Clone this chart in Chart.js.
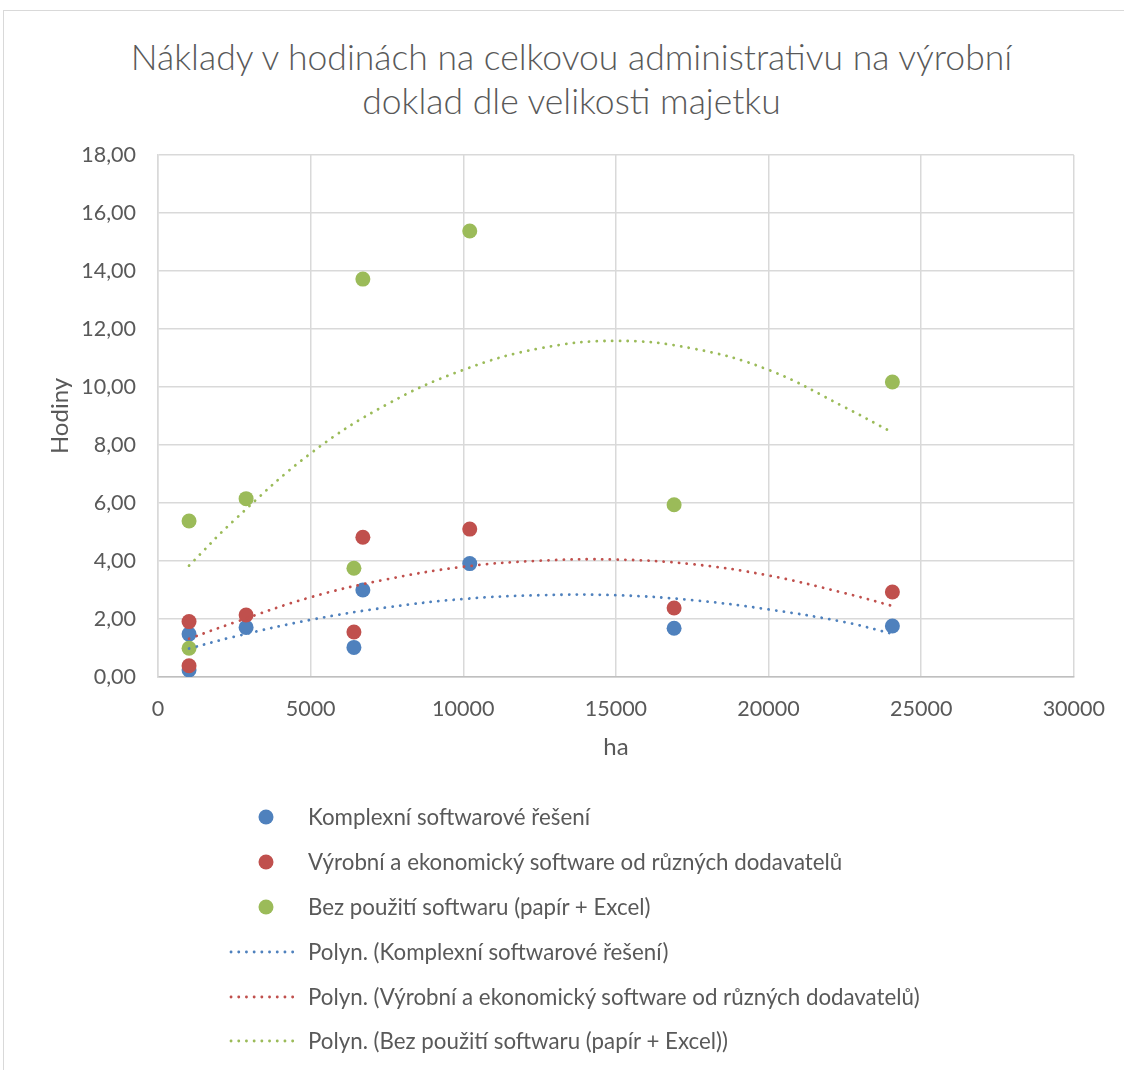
<!DOCTYPE html>
<html>
<head>
<meta charset="utf-8">
<script src="https://cdn.jsdelivr.net/npm/chart.js@4/dist/chart.umd.min.js"></script>
<style>
html,body{margin:0;padding:0;background:#fff;}
body{width:1124px;height:1070px;position:relative;overflow:hidden;font-family:Lato,"Open Sans",sans-serif;}
#frame{position:absolute;left:3px;top:10px;width:1200px;height:1200px;border:1px solid #d9d9d9;box-sizing:border-box;}
#wrap{position:absolute;left:0;top:0;width:1124px;height:780px;}
#title{position:absolute;left:0;top:0;width:1143px;text-align:center;color:#595959;font-size:35.5px;font-weight:300;}
#title div{position:absolute;left:0;width:1143px;height:44px;line-height:44px;white-space:nowrap;}
#legend{position:absolute;left:0;top:0;width:1124px;height:1070px;pointer-events:none;}
.row{position:absolute;left:0;height:30px;width:1124px;}
.row svg{position:absolute;left:0;top:0;}
.row span{position:absolute;left:308px;top:0;line-height:30px;font-size:22.3px;color:#595959;white-space:nowrap;}
</style>
</head>
<body>
<div id="frame"></div>
<div id="title"></div>
<div id="wrap"><canvas id="c" width="1124" height="780"></canvas></div>
<div id="legend"></div>
<script>
// ---- data ----
const titleLines = ['Náklady v hodinách na celkovou administrativu na výrobní', 'doklad dle velikosti majetku'];
const xAxisTitle = 'ha';
const yAxisTitle = 'Hodiny';
const seriesNames = ['Komplexní softwarové řešení', 'Výrobní a ekonomický software od různých dodavatelů', 'Bez použití softwaru (papír + Excel)'];
const trendNames = ['Polyn. (Komplexní softwarové řešení)', 'Polyn. (Výrobní a ekonomický software od různých dodavatelů)', 'Polyn. (Bez použití softwaru (papír + Excel))'];
const seriesColors = ['#4f81bd', '#c0504d', '#9bbb59'];

const xValues = [1017, 1017, 2886, 6418, 6711, 10212, 16906, 24057];
const komplexniY = [1.48, 0.24, 1.71, 1.02, 3.00, 3.91, 1.68, 1.76];
const vyrobniY   = [1.91, 0.39, 2.14, 1.55, 4.82, 5.10, 2.38, 2.93];
const bezY       = [5.38, 0.99, 6.15, 3.75, 13.72, 15.38, 5.94, 10.17];

// trend curves
const trendX = [1017, 2500, 5000, 7500, 10000, 12500, 15000, 17500, 20000, 22500, 24057];
const komplexniTrend = [0.98, 1.39, 1.97, 2.40, 2.69, 2.82, 2.82, 2.65, 2.33, 1.89, 1.49];
const vyrobniTrend   = [1.32, 1.88, 2.75, 3.37, 3.80, 4.01, 4.05, 3.89, 3.50, 2.89, 2.45];
const bezTrend       = [3.84, 5.41, 7.71, 9.40, 10.59, 11.33, 11.59, 11.33, 10.59, 9.30, 8.43];

const xTickLabels = ['0', '5000', '10000', '15000', '20000', '25000', '30000'];
const yTickLabels = ['0,00', '2,00', '4,00', '6,00', '8,00', '10,00', '12,00', '14,00', '16,00', '18,00'];

// ---- build ----
const pts = (xs, ys) => xs.map((x, i) => ({x: x, y: ys[i]}));
const scatterY = [komplexniY, vyrobniY, bezY];
const trendY = [komplexniTrend, vyrobniTrend, bezTrend];
const FONT = 'Lato';
const TXT = '#595959';

// title (HTML text)
const titleBox = document.getElementById('title');
const titleCenters = [57, 101];
titleLines.forEach((t, i) => {
  const d = document.createElement('div');
  d.style.top = (titleCenters[i] - 22) + 'px';
  d.textContent = t;
  titleBox.appendChild(d);
});

const datasets = [];
scatterY.forEach((ys, i) => {
  datasets.push({
    label: seriesNames[i],
    data: pts(xValues, ys),
    showLine: false,
    pointRadius: 7.5,
    pointHoverRadius: 7.5,
    pointBackgroundColor: seriesColors[i],
    pointBorderColor: seriesColors[i],
    pointBorderWidth: 0,
    order: 3 - i
  });
});
trendY.forEach((ys, i) => {
  datasets.push({
    label: trendNames[i],
    data: pts(trendX, ys),
    showLine: true,
    pointRadius: 0,
    borderColor: seriesColors[i],
    borderWidth: 2.8,
    borderDash: [0.1, 7.6],
    borderCapStyle: 'round',
    tension: 0.4,
    fill: false,
    order: 0
  });
});

new Chart(document.getElementById('c'), {
  type: 'scatter',
  data: {datasets: datasets},
  options: {
    responsive: false,
    animation: false,
    layout: {padding: {left: 0, right: 48, top: 155, bottom: 0}},
    plugins: {
      legend: {display: false},
      tooltip: {enabled: false},
      title: {display: false}
    },
    scales: {
      x: {
        type: 'linear',
        min: 0, max: 30000,
        ticks: {stepSize: 5000, color: TXT, font: {family: FONT, size: 21.5, lineHeight: 1.2}, padding: 19,
                callback: (v, i) => xTickLabels[i]},
        grid: {color: '#d9d9d9', lineWidth: 1.5, drawTicks: false},
        border: {color: '#bfbfbf', width: 1.5},
        title: {display: true, text: xAxisTitle, color: TXT, font: {family: FONT, size: 24, lineHeight: 1.2}, padding: {top: 0, bottom: 18.6}},
        afterFit: s => { s.height = 103; }
      },
      y: {
        type: 'linear',
        min: 0, max: 18,
        ticks: {stepSize: 2, color: TXT, font: {family: FONT, size: 21.5, lineHeight: 1.2}, padding: 22,
                callback: (v, i) => yTickLabels[i]},
        grid: {color: '#d9d9d9', lineWidth: 1.5, drawTicks: false},
        border: {color: '#d9d9d9', width: 1.5},
        title: {display: true, text: yAxisTitle, color: TXT, font: {family: FONT, size: 24, lineHeight: 1.2}, padding: {top: 45.6, bottom: 0}},
        afterFit: s => { s.width = 158; }
      }
    }
  }
});

// ---- legend (HTML, real text) ----
const legendRows = [817, 862, 907, 952, 997, 1041];
const leg = document.getElementById('legend');
const names = seriesNames.concat(trendNames);
names.forEach((name, k) => {
  const row = document.createElement('div');
  row.className = 'row';
  row.style.top = (legendRows[k] - 15) + 'px';
  const col = seriesColors[k % 3];
  let svg;
  if (k < 3) {
    svg = '<svg width="320" height="30"><circle cx="266" cy="15" r="7.5" fill="' + col + '"/></svg>';
  } else {
    svg = '<svg width="320" height="30"><line x1="231" y1="15" x2="300" y2="15" stroke="' + col + '" stroke-width="2.8" stroke-linecap="round" stroke-dasharray="0.1 7.6"/></svg>';
  }
  row.innerHTML = svg + '<span></span>';
  row.querySelector('span').textContent = name;
  leg.appendChild(row);
});
</script>
</body>
</html>
